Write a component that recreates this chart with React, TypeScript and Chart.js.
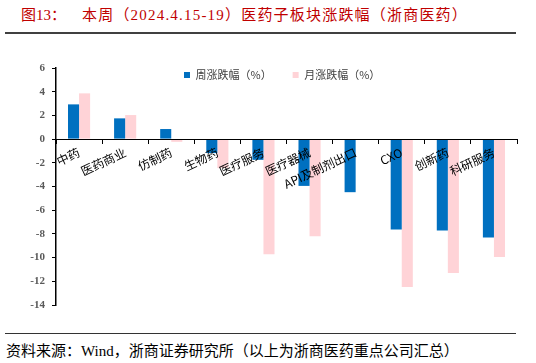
import React, { useEffect, useRef } from 'react';
import { Chart, registerables } from 'chart.js';

Chart.register(...registerables);

// ---- data ----
const categories = ['中药', '医药商业', '仿制药', '生物药', '医疗服务', '医疗器械', 'API及制剂出口', 'CXO', '创新药', '科研服务'];
const weeklyChange = [2.93, 1.75, 0.85, -1.18, -1.75, -3.95, -4.48, -7.63, -7.72, -8.31];
const monthlyChange = [3.86, 2.03, -0.23, -2.45, -9.72, -8.2, 0, -12.48, -11.3, -9.95];
const seriesNames = ['周涨跌幅（%）', '月涨跌幅（%）'];
const yMin = -14;
const yMax = 6;
const yStep = 2;
const titleLabel = '图13：';
const titleText = '本周（2024.4.15-19）医药子板块涨跌幅（浙商医药）';
const sourceText = '资料来源：Wind，浙商证券研究所（以上为浙商医药重点公司汇总）';

const CJK = '"Noto Sans CJK SC", "Noto Sans", sans-serif';
const SERIF_CJK = '"Liberation Serif", "Noto Sans CJK SC", serif';

// Places the library legend inside the plot area without reserving layout space
const legendPlacer = {
  id: 'legendPlacer',
  beforeLayout(chart: any) {
    const lg = chart.legend;
    if (lg && !lg.__patched) {
      const orig = lg.fit;
      lg.fit = function () {
        orig.call(this);
        this.__h = this.height;
        this.height = 0;
      };
      lg.__patched = true;
    }
  },
  afterLayout(chart: any) {
    const lg = chart.legend;
    if (!lg) return;
    const h = lg.__h || 40;
    lg.left = 163;
    lg.right = chart.width;
    lg.width = lg.right - lg.left;
    lg.top = 8.5;
    lg.height = h;
    lg.bottom = lg.top + h;
  },
};

export default function App() {
  const canvasRef = useRef<HTMLCanvasElement | null>(null);

  useEffect(() => {
    if (!canvasRef.current) return;
    const chart = new Chart(canvasRef.current, {
      type: 'bar',
      data: {
        labels: categories,
        datasets: [
          {
            label: seriesNames[0],
            data: weeklyChange,
            backgroundColor: '#0070C0',
            borderWidth: 0,
            barPercentage: 1,
            categoryPercentage: 0.48,
          },
          {
            label: seriesNames[1],
            data: monthlyChange,
            backgroundColor: '#FFD3D7',
            borderWidth: 0,
            barPercentage: 1,
            categoryPercentage: 0.48,
          },
        ],
      },
      options: {
        responsive: false,
        animation: false,
        layout: { padding: { left: 0, right: 19, top: 28, bottom: 25 } },
        plugins: {
          legend: {
            display: true,
            position: 'top',
            align: 'start',
            labels: {
              boxWidth: 6,
              boxHeight: 6,
              padding: 21,
              color: '#404040',
              font: { family: CJK, size: 11 },
            },
          },
          tooltip: { enabled: false },
          title: { display: false },
        },
        scales: {
          x: {
            position: { y: 0 } as any,
            offset: true,
            grid: {
              display: true,
              drawOnChartArea: false,
              drawTicks: true,
              tickLength: 4,
              color: '#000',
              offset: true,
            },
            border: { display: true, color: '#000', width: 1, z: 1 },
            ticks: {
              autoSkip: false,
              maxRotation: 25,
              minRotation: 25,
              padding: 2,
              color: '#000',
              font: { family: CJK, size: 12 },
              z: 1,
            },
            afterFit: (s: any) => {
              s.height = 0;
            },
          },
          y: {
            min: yMin,
            max: yMax,
            ticks: {
              stepSize: yStep,
              padding: 7,
              color: '#595959',
              font: { family: '"Liberation Serif", serif', size: 11, weight: 'bold' },
            },
            grid: {
              display: true,
              drawOnChartArea: false,
              drawTicks: true,
              tickLength: 4,
              color: '#000',
            },
            border: { display: true, color: '#000', width: 1.5 },
            afterFit: (s: any) => {
              s.width = 56;
            },
          },
        },
      },
      plugins: [legendPlacer],
    } as any);
    return () => chart.destroy();
  }, []);

  return (
    <div style={{ position: 'absolute', left: 0, top: 0, width: 536, height: 363, background: '#fff', overflow: 'hidden' }}>
      <div
        style={{
          position: 'absolute', left: 21, top: 6, fontSize: 15, lineHeight: '18px',
          fontFamily: SERIF_CJK, color: '#C00000', whiteSpace: 'pre',
        }}
      >
        {titleLabel}
      </div>
      <div
        style={{
          position: 'absolute', left: 82, top: 6, fontSize: 15, lineHeight: '18px',
          fontFamily: SERIF_CJK, color: '#C00000', whiteSpace: 'pre', letterSpacing: '1.2px',
        }}
      >
        {titleText}
      </div>
      <div style={{ position: 'absolute', left: 5, top: 32, width: 511, height: 2, background: '#404040' }} />
      <canvas
        ref={canvasRef}
        width={536}
        height={290}
        style={{ position: 'absolute', left: 0, top: 40, width: 536, height: 290 }}
      />
      <div style={{ position: 'absolute', left: 5, top: 333, width: 511, height: 1, background: '#333' }} />
      <div
        style={{
          position: 'absolute', left: 6, top: 342, fontSize: 15, lineHeight: '18px',
          fontFamily: SERIF_CJK, color: '#000', whiteSpace: 'pre',
        }}
      >
        {sourceText}
      </div>
    </div>
  );
}
